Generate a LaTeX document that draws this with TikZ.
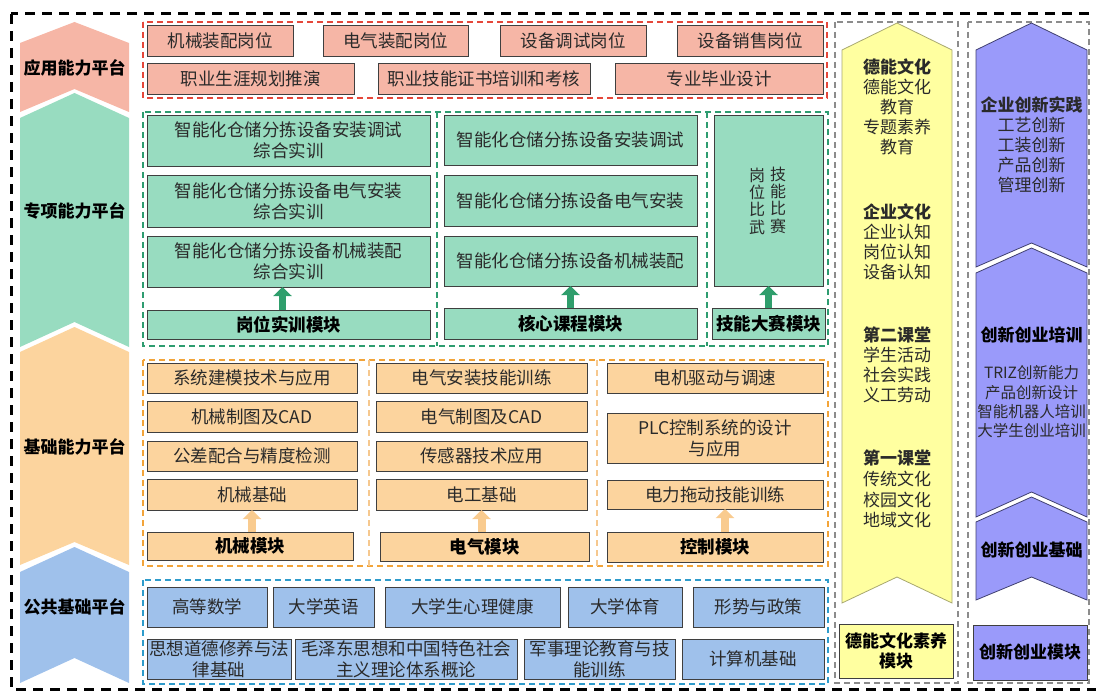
\documentclass[tikz,border=0pt]{standalone}
\usepackage{fontspec}
\setmainfont{Noto Sans CJK SC}
\usetikzlibrary{arrows.meta}
\definecolor{pinkc}{HTML}{F6B6A6}
\definecolor{greenc}{HTML}{98DCC0}
\definecolor{orangec}{HTML}{FCD49E}
\definecolor{bluec}{HTML}{9FC1EB}
\definecolor{yellowc}{HTML}{FFFFA0}
\definecolor{purplec}{HTML}{9A9AFA}
\definecolor{boxline}{HTML}{3F3F3F}
\definecolor{txtc}{HTML}{2A2A2A}
\definecolor{reddash}{HTML}{E5473A}
\definecolor{greendash}{HTML}{2E9C70}
\definecolor{orangedash}{HTML}{F2A43A}
\definecolor{orangediv}{HTML}{F6C88E}
\definecolor{bluedash}{HTML}{2E9BCB}
\definecolor{graydash}{HTML}{8C8C8C}
\definecolor{arrowg}{HTML}{2F9E6C}
\definecolor{arrowo}{HTML}{F9CB8F}
\definecolor{purpline}{HTML}{404070}
\definecolor{yellowline}{HTML}{A8A870}
\newcommand\fsn{\fontsize{17.5}{21}\selectfont}
\newcommand\bx[7]{%
  \pgfmathsetmacro\bxcx{(#2+#4)/2}\pgfmathsetmacro\bxcy{(#3+#5)/2}%
  \pgfmathsetmacro\bxw{#4-#2}\pgfmathsetmacro\bxh{#5-#3}%
  \node[#6, minimum width=\bxw pt, minimum height=\bxh pt] (#1) at (\bxcx,\bxcy) {#7};}
\newcommand\chev[7]{\path[#1] (#2,#5) -- ({(#2+#3)/2},#4) -- (#3,#5) -- (#3,#6) -- ({(#2+#3)/2},#7) -- (#2,#6) -- cycle;}
\begin{document}
\begin{tikzpicture}[x=1pt,y=-1pt,
  box/.style={draw=boxline, line width=0.9pt, inner sep=0pt, outer sep=0pt, align=center, font=\fsn, text=txtc},
  pbox/.style={box, fill=pinkc},
  gbox/.style={box, fill=greenc},
  obox/.style={box, fill=orangec},
  bbox/.style={box, fill=bluec},
  ybox/.style={box, fill=yellowc},
  vbox/.style={box, fill=purplec},
  modtxt/.style={font=\fsn\bfseries, text=black},
  grp/.style={dashed, dash pattern=on 6pt off 4pt, line width=1.5pt},
  garrow/.style={line width=7pt, draw=arrowg, -{Triangle[width=18pt,length=9pt]}},
  oarrow/.style={line width=8pt, draw=arrowo, -{Triangle[width=18pt,length=9pt]}},
  lbl/.style={font=\fontsize{17}{21}\selectfont\bfseries, text=black, align=center},
  coltxt/.style={font=\fontsize{17}{20}\selectfont, text=txtc, align=center},
]
\useasboundingbox (0,0) rectangle (1096,693);
% outer border
\draw[black, line width=3pt, dash pattern=on 10pt off 7pt] (11,14) rectangle (1099,689);

% left chevrons
\chev{fill=pinkc}{20}{129}{22}{43}{112}{89}
\chev{fill=greenc}{20}{129}{93}{118}{347}{322}
\chev{fill=orangec}{20}{129}{327}{352}{565}{542}
\chev{fill=bluec}{20}{129}{547}{572}{683}{658}
\node[lbl] (L1) at (74.5,68) {应用能力平台};
\node[lbl] (L2) at (74.5,211) {专项能力平台};
\node[lbl] (L3) at (74.5,447) {基础能力平台};
\node[lbl] (L4) at (74.5,607) {公共基础平台};

% ---------- application platform ----------
\draw[grp, draw=reddash] (143,22) rectangle (827,98);
\bx{p1}{147}{25}{293}{56}{pbox}{机械装配岗位}
\bx{p2}{323}{25}{468}{56}{pbox}{电气装配岗位}
\bx{p3}{500}{25}{646}{56}{pbox}{设备调试岗位}
\bx{p4}{677}{25}{823}{56}{pbox}{设备销售岗位}
\bx{p5}{147}{63}{354}{94}{pbox}{职业生涯规划推演}
\bx{p6}{378}{63}{590}{94}{pbox}{职业技能证书培训和考核}
\bx{p7}{615}{63}{823}{94}{pbox}{专业毕业设计}

% ---------- special ability platform ----------
\draw[grp, draw=greendash] (143,112) rectangle (828,346);
\draw[grp, draw=greendash] (437,112) -- (437,346);
\draw[grp, draw=greendash] (707,112) -- (707,346);
\bx{g1}{147}{115}{430}{166}{gbox}{智能化仓储分拣设备安装调试\\综合实训}
\bx{g2}{147}{175}{430}{227}{gbox}{智能化仓储分拣设备电气安装\\综合实训}
\bx{g3}{147}{236}{430}{287}{gbox}{智能化仓储分拣设备机械装配\\综合实训}
\bx{gm1}{147}{310}{430}{339}{gbox, modtxt}{岗位实训模块}
\bx{g4}{444}{115}{697}{165}{gbox}{智能化仓储分拣设备安装调试}
\bx{g5}{444}{175}{697}{226}{gbox}{智能化仓储分拣设备电气安装}
\bx{g6}{444}{236}{697}{286}{gbox}{智能化仓储分拣设备机械装配}
\bx{gm2}{444}{308}{697}{339}{gbox, modtxt}{核心课程模块}
\bx{g7}{714}{115}{823}{286}{gbox}{}
\bx{gm3}{712}{308}{825}{339}{gbox, modtxt}{技能大赛模块}
\node[font=\fontsize{16}{17.3}\selectfont, text=txtc, align=center, inner sep=0pt] (v1) at (757,201) {岗\\位\\比\\武};
\node[font=\fontsize{16}{17.3}\selectfont, text=txtc, align=center, inner sep=0pt] (v2) at (778,200) {技\\能\\比\\赛};
\draw[garrow] ([xshift=-6pt]gm1.north) -- ([xshift=-6pt]gm1.north |- g3.south);
\draw[garrow] (gm2.north) -- (gm2.north |- g6.south);
\draw[garrow] (gm3.north) -- (gm3.north |- g7.south);

% ---------- basic ability platform ----------
\draw[grp, draw=orangedash] (143,360) rectangle (828,566);
\draw[grp, draw=orangediv] (369,360) -- (369,566);
\draw[grp, draw=orangediv] (597,360) -- (597,566);
\bx{o1}{147}{363}{357}{393}{obox}{系统建模技术与应用}
\bx{o2}{147}{401}{357}{432}{obox}{机械制图及CAD}
\bx{o3}{147}{441}{357}{471}{obox}{公差配合与精度检测}
\bx{o4}{147}{479}{357}{510}{obox}{机械基础}
\bx{om1}{147}{532}{353}{560}{obox, modtxt}{机械模块}
\bx{o5}{376}{363}{587}{393}{obox}{电气安装技能训练}
\bx{o6}{376}{401}{587}{432}{obox}{电气制图及CAD}
\bx{o7}{376}{441}{587}{471}{obox}{传感器技术应用}
\bx{o8}{376}{479}{587}{510}{obox}{电工基础}
\bx{om2}{380}{532}{589}{561}{obox, modtxt}{电气模块}
\bx{o9}{607}{363}{823}{393}{obox}{电机驱动与调速}
\bx{o10}{607}{413}{823}{463}{obox}{PLC控制系统的设计\\与应用}
\bx{o11}{607}{480}{823}{509}{obox}{电力拖动技能训练}
\bx{om3}{607}{532}{823}{562}{obox, modtxt}{控制模块}
\draw[oarrow] (om1.north -| o4.south) -- (o4.south);
\draw[oarrow] (om2.north -| o8.south) -- (o8.south);
\draw[oarrow] ([xshift=10pt]om3.north) -- ([xshift=10pt]o11.south);

% ---------- public basic platform ----------
\draw[grp, draw=bluedash] (143,580) rectangle (828,684);
\bx{b1}{147}{587}{267}{627}{bbox}{高等数学}
\bx{b2}{273}{587}{374}{627}{bbox}{大学英语}
\bx{b3}{385}{587}{560}{627}{bbox}{大学生心理健康}
\bx{b4}{568}{587}{682}{627}{bbox}{大学体育}
\bx{b5}{693}{587}{824}{627}{bbox}{形势与政策}
\bx{b6}{147}{639}{291}{679}{bbox}{思想道德修养与法\\律基础}
\bx{b7}{295}{639}{517}{679}{bbox}{毛泽东思想和中国特色社会\\主义理论体系概论}
\bx{b8}{524}{639}{675}{679}{bbox}{军事理论教育与技\\能训练}
\bx{b9}{682}{639}{824}{679}{bbox}{计算机基础}

% ---------- culture column ----------
\draw[grp, draw=graydash] (835,22) rectangle (958,683);
\chev{fill=yellowc, draw=yellowline, line width=0.8pt}{842}{952}{23}{50}{603}{577}
\node[coltxt] (y1) at (897,107) {\textbf{德能文化}\\德能文化\\教育\\专题素养\\教育};
\node[coltxt] (y2) at (897,242) {\textbf{企业文化}\\企业认知\\岗位认知\\设备认知};
\node[coltxt] (y3) at (897,365) {\textbf{第二课堂}\\学生活动\\社会实践\\义工劳动};
\node[coltxt, font=\fontsize{17}{20.7}\selectfont] (y4) at (897,489) {\textbf{第一课堂}\\传统文化\\校园文化\\地域文化};
\bx{ym}{839}{624}{953}{678}{ybox, font=\fontsize{17}{19.5}\selectfont\bfseries, text=black}{德能文化素养\\模块}

% ---------- innovation column ----------
\draw[grp, draw=graydash] (968,22) rectangle (1089,683);
\chev{fill=purplec, draw=purpline, line width=0.8pt}{976}{1087}{23}{50}{267}{243}
\chev{fill=purplec, draw=purpline, line width=0.8pt}{976}{1087}{248}{273}{517}{492}
\chev{fill=purplec, draw=purpline, line width=0.8pt}{976}{1087}{497}{522}{600}{577}
\node[coltxt] (q1) at (1031.5,145) {\textbf{企业创新实践}\\工艺创新\\工装创新\\产品创新\\管理创新};
\node[lbl] (q2) at (1031.5,335) {创新创业培训};
\node[coltxt, font=\fontsize{15.5}{19.3}\selectfont] (q3) at (1031.5,402) {TRIZ创新能力\\产品创新设计\\智能机器人培训\\大学生创业培训};
\node[lbl] (q4) at (1031.5,550) {创新创业基础};
\bx{qm}{973}{625}{1087}{680}{vbox, font=\fontsize{17}{21}\selectfont\bfseries, text=black}{创新创业模块}
\end{tikzpicture}
\end{document}
